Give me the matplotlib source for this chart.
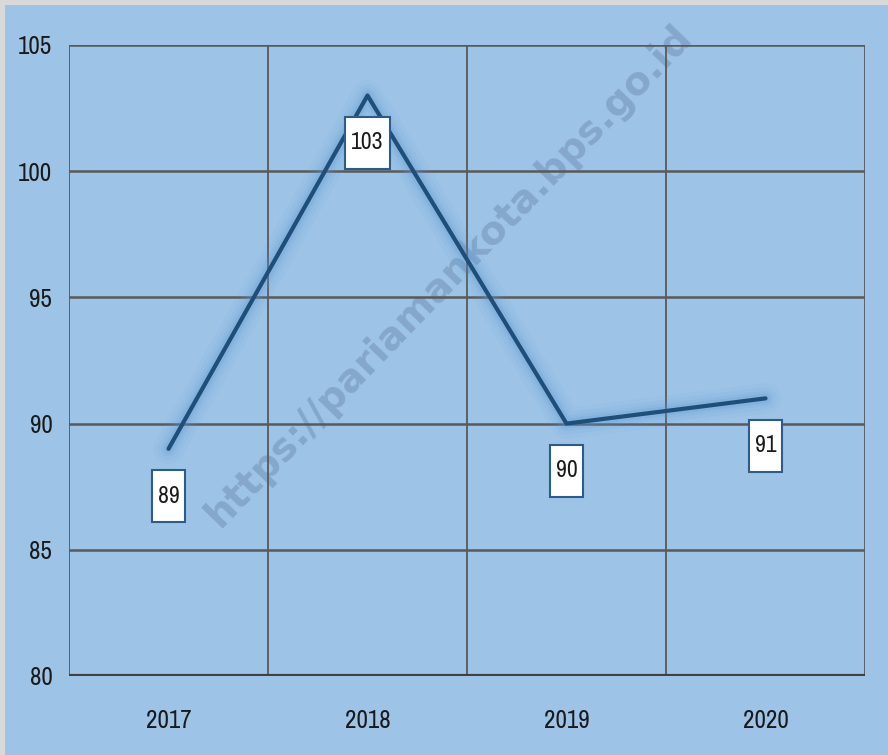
import matplotlib.pyplot as plt
from matplotlib.patches import Rectangle
from matplotlib import font_manager

years = ["2017", "2018", "2019", "2020"]
values = [89, 103, 90, 91]
y_ticks = [80, 85, 90, 95, 100, 105]

BG = "#9DC3E6"
LINE = "#1F4E79"
GRID = "#595959"

# pick a narrow face if one is installed (the original uses a condensed font)
names = sorted({f.name for f in font_manager.fontManager.ttflist})
narrow = [n for n in names if "Narrow" in n or "Condensed" in n]
plt.rcParams["font.family"] = narrow[:1] + ["DejaVu Sans"]

fig = plt.figure(figsize=(8.88, 7.55), dpi=100, facecolor=BG)
fig.patches.append(Rectangle((0, 0), 5 / 888, 1, transform=fig.transFigure,
                             facecolor="#D9D9D9", edgecolor="none", zorder=-1))
fig.patches.append(Rectangle((0, 1 - 5 / 755), 1, 5 / 755, transform=fig.transFigure,
                             facecolor="#D9D9D9", edgecolor="none", zorder=-1))

ax = fig.add_axes([69 / 888, 1 - 676 / 755, (865 - 69) / 888, (676 - 45) / 755])
ax.set_facecolor(BG)

x = list(range(len(years)))

# soft glow under the line
for w, a in [(22, 0.06), (16, 0.08), (11, 0.12), (7, 0.18)]:
    ax.plot(x, values, color="#5B9BD5", linewidth=w, alpha=a,
            solid_capstyle="round", zorder=3)
ax.plot(x, values, color=LINE, linewidth=3, solid_capstyle="round", zorder=4)

labels = []
for xi, v in zip(x, values):
    t = ax.annotate(str(v), (xi, v), xytext=(0, -34), textcoords="offset points",
                    ha="center", va="center", fontsize=17, color="#1a1a1a", zorder=7)
    labels.append(t)

ax.set_xlim(-0.5, len(years) - 0.5)
ax.set_ylim(80, 105)
ax.set_yticks(y_ticks)
ax.set_xticks(x)
ax.set_xticklabels(years)

for yv in y_ticks:
    ax.axhline(yv, color=GRID, linewidth=1.8, zorder=2)
for xv in [-0.5, 0.5, 1.5, 2.5, 3.5]:
    ax.axvline(xv, color=GRID, linewidth=1.3, zorder=2)
ax.axhline(80, color="#404040", linewidth=3, zorder=2)

for s in ax.spines.values():
    s.set_visible(False)

ax.tick_params(axis="both", length=0, labelsize=18, colors="#1a1a1a")
ax.tick_params(axis="y", pad=12)
ax.tick_params(axis="x", pad=24)

# watermark sits under the grid and the line
ax.text(0.505, 0.635, "https://pariamankota.bps.go.id", rotation=46,
        ha="center", va="center", fontsize=28, fontweight="bold",
        family="DejaVu Sans", color="#84A7CB", zorder=1.5,
        transform=fig.transFigure)

# white label boxes, taller than the text
fig.canvas.draw()
r = fig.canvas.get_renderer()
for t in labels:
    bb = t.get_window_extent(r)
    cx = (bb.x0 + bb.x1) / 2
    cy = (bb.y0 + bb.y1) / 2
    w = bb.width + 12
    h = 52
    fig.patches.append(Rectangle(((cx - w / 2) / 888, (cy - h / 2) / 755), w / 888, h / 755,
                                 transform=fig.transFigure, facecolor="white",
                                 edgecolor="#2E5C8A", linewidth=1.5, zorder=5))
    t.remove()
    fig.text(cx / 888, cy / 755, t.get_text(), ha="center", va="center",
             fontsize=17, color="#1a1a1a", zorder=7)

fig.savefig("out.png", dpi=100, facecolor=BG)
